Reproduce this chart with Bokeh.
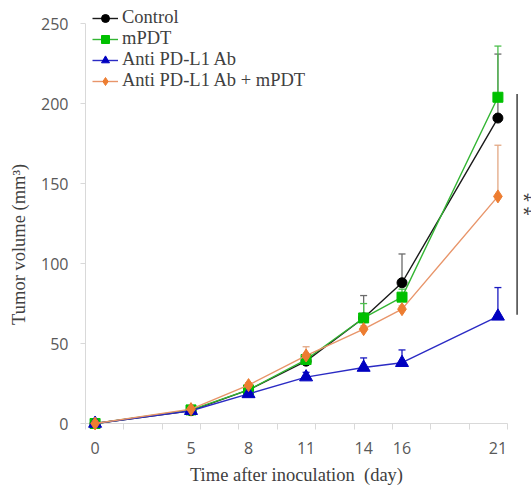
import math
from bokeh.plotting import figure
from bokeh.models import FixedTicker, Legend, LegendItem
from bokeh.core.properties import value
from bokeh.embed import file_html
from bokeh.resources import INLINE

# ---- data ----
days = [0, 5, 8, 11, 14, 16, 21]
control = [0, 8, 21, 39, 66, 88, 191]
control_err = [0, 1, 1.5, 2.5, 14, 18, 40]
mpdt = [0, 8.5, 21, 40, 66, 79, 204]
mpdt_err = [0, 1, 1.5, 2, 9, 5, 32]
anti = [0, 8, 18.5, 29, 35, 38, 67]
anti_err = [0, 1, 1.5, 3, 6, 8, 18]
combo = [0, 9, 24, 42.5, 59, 71.5, 142]
combo_err = [0, 1, 1.5, 5.5, 2, 2, 32]
series_names = ["Control", "mPDT", "Anti PD-L1 Ab", "Anti PD-L1 Ab + mPDT"]
y_ticks = [0, 50, 100, 150, 200, 250]
x_minor_marks = [-0.5, 1.5, 3.5, 5.5, 7.5, 9.5, 11.5, 13.5, 15.5, 17.5, 19.5, 21.5]
sig_top, sig_bottom, sig_x = 206, 68, 22.0
star_x, star_y = 22.45, 137

SERIF = "Liberation Serif"
SANS = "Open Sans"
X0, X1 = -0.5, 21.5

p = figure(width=531, height=487, x_range=(X0, X1), y_range=(0, 264.5),
           output_backend="svg", toolbar_location=None,
           min_border_left=85, min_border_right=24, min_border_top=0, min_border_bottom=64)
p.outline_line_color = None
p.xgrid.visible = False
p.ygrid.visible = False
p.background_fill_color = "white"
p.border_fill_color = "white"

# x axis
xa = p.xaxis[0]
xa.ticker = FixedTicker(ticks=days, minor_ticks=x_minor_marks)
xa.axis_line_color = "#d9d9d9"
xa.major_tick_out = 0
xa.major_tick_in = 0
xa.minor_tick_out = 6
xa.minor_tick_in = 0
xa.minor_tick_line_color = "#d9d9d9"
xa.major_label_standoff = 12
xa.major_label_text_font = SANS
xa.major_label_text_font_size = "16px"
xa.major_label_text_color = "#595959"
xa.axis_label = "Time after inoculation \u00a0(day)"
xa.axis_label_standoff = 8
xa.axis_label_text_font = SERIF
xa.axis_label_text_font_size = "18.5px"
xa.axis_label_text_font_style = "normal"
xa.axis_label_text_color = "#404040"

# y axis
ya = p.yaxis[0]
ya.ticker = FixedTicker(ticks=y_ticks, minor_ticks=[])
ya.axis_line_color = None
ya.major_tick_out = 5
ya.major_tick_in = 0
ya.major_tick_line_color = "#d9d9d9"
ya.major_label_standoff = 12
ya.major_label_text_font = SANS
ya.major_label_text_font_size = "16px"
ya.major_label_text_color = "#595959"
ya.axis_label = "Tumor volume (mm\u00b3)" + "\u00a0" * 14
ya.axis_label_standoff = 9
ya.axis_label_text_font = SERIF
ya.axis_label_text_font_size = "18.5px"
ya.axis_label_text_font_style = "normal"
ya.axis_label_text_color = "#404040"

# visible y axis line only over the tick span
p.segment(x0=[X0], y0=[y_ticks[0]], x1=[X0], y1=[y_ticks[-1]], line_color="#d9d9d9",
          line_width=1, level="overlay")

styles = [
    (control, control_err, "#1a1a1a", "#000000", "#6b6b6b", "circle", 10),
    (mpdt, mpdt_err, "#33b533", "#00c000", "#4cbf4c", "square", 10),
    (anti, anti_err, "#2b2bc4", "#0000c0", "#1a1ac0", "triangle", 13),
    (combo, combo_err, "#e8956a", "#ed7d31", "#e3a884", "diamond", 13),
]

items = []
for name, (vals, errs, lc, mc, ec, mk, sz) in zip(series_names, styles):
    tops = [v + e for v, e in zip(vals, errs)]
    p.segment(x0=days, y0=vals, x1=days, y1=tops, line_color=ec, line_width=1.3, level="overlay")
    p.scatter(x=days, y=tops, marker="dash", size=7, line_color=ec, line_width=1.3, level="overlay")

for name, (vals, errs, lc, mc, ec, mk, sz) in zip(series_names, styles):
    lr = p.line(x=days, y=vals, line_color=lc, line_width=1.4, level="overlay")
    sr = p.scatter(x=days, y=vals, marker=mk, size=sz, fill_color=mc, line_color=mc, level="overlay")
    items.append(LegendItem(label=name, renderers=[lr, sr]))

# significance bracket
p.segment(x0=[sig_x], y0=[sig_top], x1=[sig_x], y1=[sig_bottom], line_color="#404040",
          line_width=1.5, level="overlay")
p.text(x=[star_x], y=[star_y], text=["* *"], angle=-math.pi / 2, text_font=value(SANS),
       text_font_size="17px", text_color="#404040", text_align="center",
       text_baseline="middle", level="overlay")

legend = Legend(items=items, location="top_left", padding=0, margin=7,
                border_line_color=None, background_fill_alpha=0,
                glyph_width=26, glyph_height=20, label_height=20, spacing=0,
                label_standoff=4, label_text_font=SERIF, label_text_font_size="18.5px",
                label_text_color="#404040")
p.add_layout(legend)

open("out.html", "w").write(file_html(p, INLINE))
